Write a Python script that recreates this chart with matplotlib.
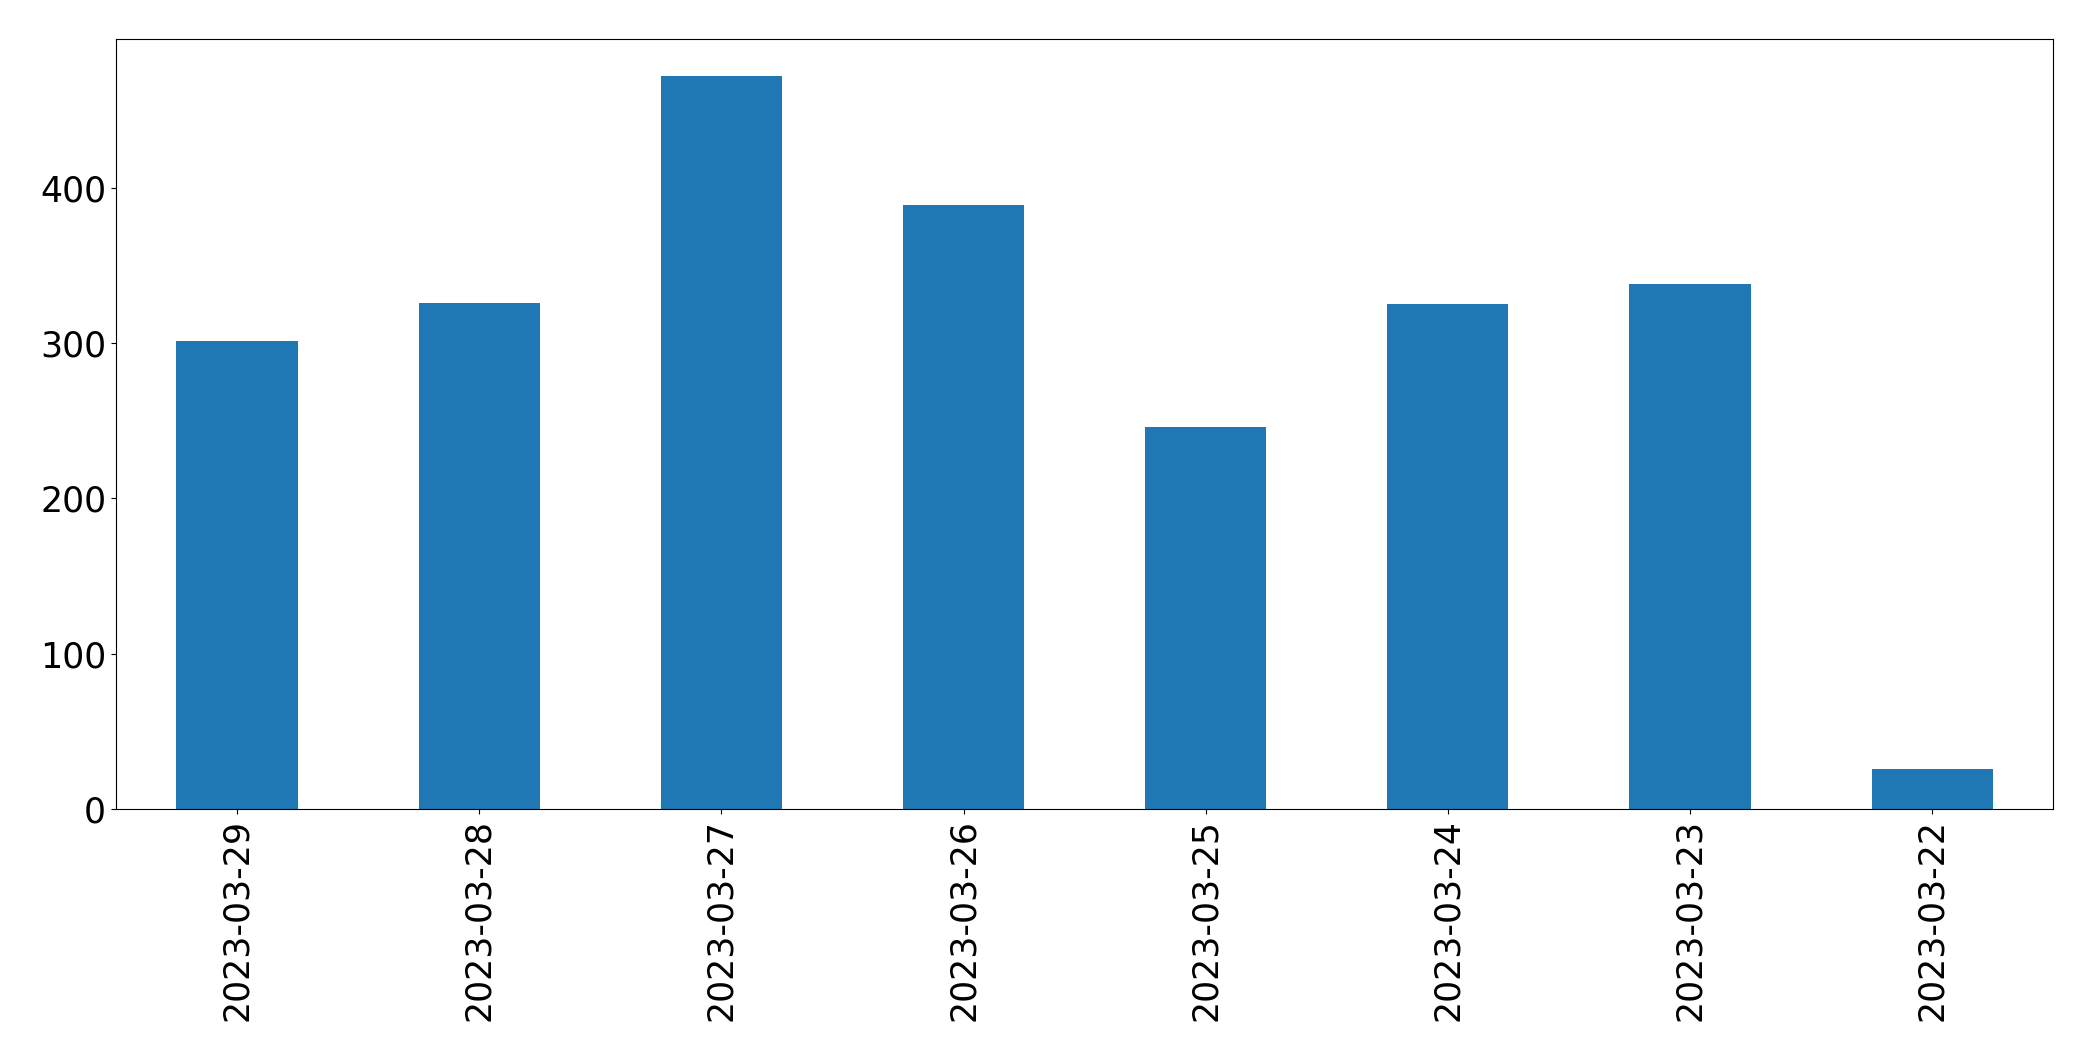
import matplotlib
matplotlib.use('Agg')
import matplotlib.pyplot as plt
import numpy as np

dates = ['2023-03-29', '2023-03-28', '2023-03-27', '2023-03-26',
         '2023-03-25', '2023-03-24', '2023-03-23', '2023-03-22']
counts = [301, 326, 472, 389, 246, 325, 338, 26]

fig = plt.figure(figsize=(20.93, 10.61), dpi=100)
ax = fig.add_axes([0.0554, 0.2375, 0.9256, 0.7257])

x = np.arange(len(dates))
ax.bar(x, counts, width=0.5, color='#1f77b4')
ax.set_xlim(-0.5, len(dates) - 0.5)
ax.set_xticks(x)
ax.set_xticklabels(dates, rotation=90)
ax.tick_params(axis='both', labelsize=25)

fig.savefig('out.png', dpi=100)
